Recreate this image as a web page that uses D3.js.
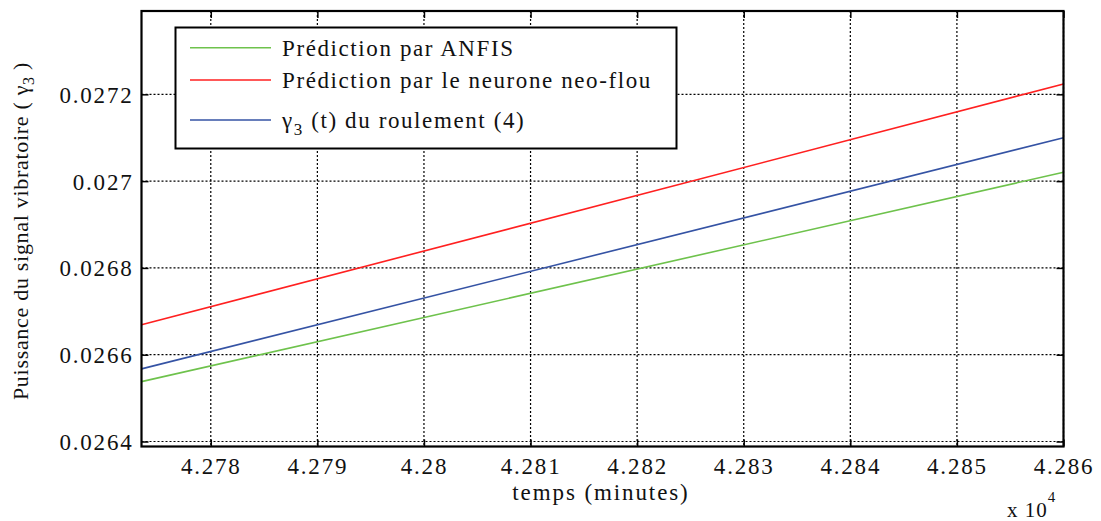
<!DOCTYPE html>
<html><head><meta charset="utf-8">
<script src="https://cdn.jsdelivr.net/npm/d3@7"></script>
<style>body{margin:0;background:#fff}svg{display:block}svg text{font-family:"Liberation Serif","Times New Roman",serif !important;fill:#111}</style>
</head><body><svg id="c" width="1101" height="521" font-family="Liberation Serif"></svg>
<script>
const xDomain = [42773.5, 42860];
const yDomain = [0.0263885, 0.027392];
const xTicks = [42780, 42790, 42800, 42810, 42820, 42830, 42840, 42850, 42860];
const xTickLabels = ["4.278","4.279","4.28","4.281","4.282","4.283","4.284","4.285","4.286"];
const yTicks = [0.0264, 0.0266, 0.0268, 0.027, 0.0272];
const yTickLabels = ["0.0264","0.0266","0.0268","0.027","0.0272"];
const times = [42773.5, 42860];
const anfis = [0.026538, 0.0270204];
const neoFlou = [0.026669, 0.0272237];
const gamma3 = [0.0265674, 0.0271];
const seriesNames = ["Prédiction par ANFIS", "Prédiction par le neurone neo-flou", "γ3 (t) du roulement (4)"];
const seriesColors = ["#6ec24c", "#ff2020", "#3553a4"];

const FONT = '"Liberation Serif","Times New Roman",serif';
const svg = d3.select("#c");
const L = 141.5, R = 1063.5, T = 11, B = 446.5;
const x = d3.scaleLinear().domain(xDomain).range([L, R]);
const y = d3.scaleLinear().domain(yDomain).range([B, T]);
const FS = 23, LS = 1.6;

// grid
const g = svg.append("g");
xTicks.forEach(t => g.append("line").attr("x1", x(t)).attr("x2", x(t)).attr("y1", T).attr("y2", B)
  .attr("stroke", "#000").attr("stroke-width", 1.2).attr("stroke-dasharray", "2,2"));
yTicks.forEach(t => g.append("line").attr("x1", L).attr("x2", R).attr("y1", y(t)).attr("y2", y(t))
  .attr("stroke", "#000").attr("stroke-width", 1.2).attr("stroke-dasharray", "2,2"));

// series
const data = [anfis, neoFlou, gamma3];
const line = d3.line().x((d, i) => x(times[i])).y(d => y(d));
data.forEach((s, k) => svg.append("path").datum(s).attr("d", line).attr("fill", "none")
  .attr("stroke", seriesColors[k]).attr("stroke-width", 1.6));

// axes (ticks inward)
const tk = 7;
const xb = svg.append("g").attr("transform", `translate(0,${B})`)
  .call(d3.axisBottom(x).tickValues(xTicks).tickFormat((d, i) => xTickLabels[i]).tickSizeInner(-tk).tickSizeOuter(0).tickPadding(11));
const xt = svg.append("g").attr("transform", `translate(0,${T})`)
  .call(d3.axisTop(x).tickValues(xTicks).tickFormat("").tickSizeInner(-tk).tickSizeOuter(0));
const yl = svg.append("g").attr("transform", `translate(${L},0)`)
  .call(d3.axisLeft(y).tickValues(yTicks).tickFormat((d, i) => yTickLabels[i]).tickSizeInner(-tk).tickSizeOuter(0).tickPadding(8));
const yr = svg.append("g").attr("transform", `translate(${R},0)`)
  .call(d3.axisRight(y).tickValues(yTicks).tickFormat("").tickSizeInner(-tk).tickSizeOuter(0));
[xb, xt, yl, yr].forEach(a => {
  a.attr("font-family", FONT);
  a.select(".domain").remove();
  a.selectAll("line").attr("stroke", "#000").attr("stroke-width", 1.5);
  a.selectAll("text").attr("font-size", FS).attr("letter-spacing", 1.8).attr("fill", "#111").style("font-family", FONT);
});
yl.selectAll("text").attr("dy", "0.35em");
svg.append("rect").attr("x", L).attr("y", T).attr("width", R - L).attr("height", B - T)
  .attr("fill", "none").attr("stroke", "#000").attr("stroke-width", 2.2);

// legend
const lg = svg.append("g");
lg.append("rect").attr("x", 175.5).attr("y", 27.5).attr("width", 501).attr("height", 121)
  .attr("fill", "#fff").attr("stroke", "#000").attr("stroke-width", 2);
const rows = [47.7, 80, 120];
seriesNames.forEach((n, k) => {
  lg.append("line").attr("x1", 190).attr("x2", 271).attr("y1", rows[k]).attr("y2", rows[k])
    .attr("stroke", seriesColors[k]).attr("stroke-width", 1.6);
  const t = lg.append("text").attr("x", 282).attr("y", rows[k] + 8).attr("font-size", FS)
    .attr("letter-spacing", LS).style("font-family", FONT);
  if (k === 2) {
    t.append("tspan").text("γ");
    t.append("tspan").attr("font-size", 17).attr("dy", 7).text("3");
    t.append("tspan").attr("dy", -7).text(" (t) du roulement (4)");
  } else t.text(n);
});

// axis labels
svg.append("text").attr("x", 601).attr("y", 500).attr("text-anchor", "middle").attr("font-size", FS)
  .attr("letter-spacing", 1.9).style("font-family", FONT).text("temps (minutes)");
const xe = svg.append("text").attr("x", 1007).attr("y", 517).attr("font-size", 21).attr("letter-spacing", 1).style("font-family", FONT);
xe.append("tspan").text("x 10");
xe.append("tspan").attr("font-size", 15).attr("dy", -15).text("4");
const yt = svg.append("text").attr("transform", "translate(28,231) rotate(-90)").attr("text-anchor", "middle")
  .attr("font-size", 22).attr("letter-spacing", 0.7).style("font-family", FONT);
yt.append("tspan").text("Puissance du signal vibratoire ( γ");
yt.append("tspan").attr("font-size", 16).attr("dy", 6).text("3");
yt.append("tspan").attr("dy", -6).text(" )");
</script></body></html>
